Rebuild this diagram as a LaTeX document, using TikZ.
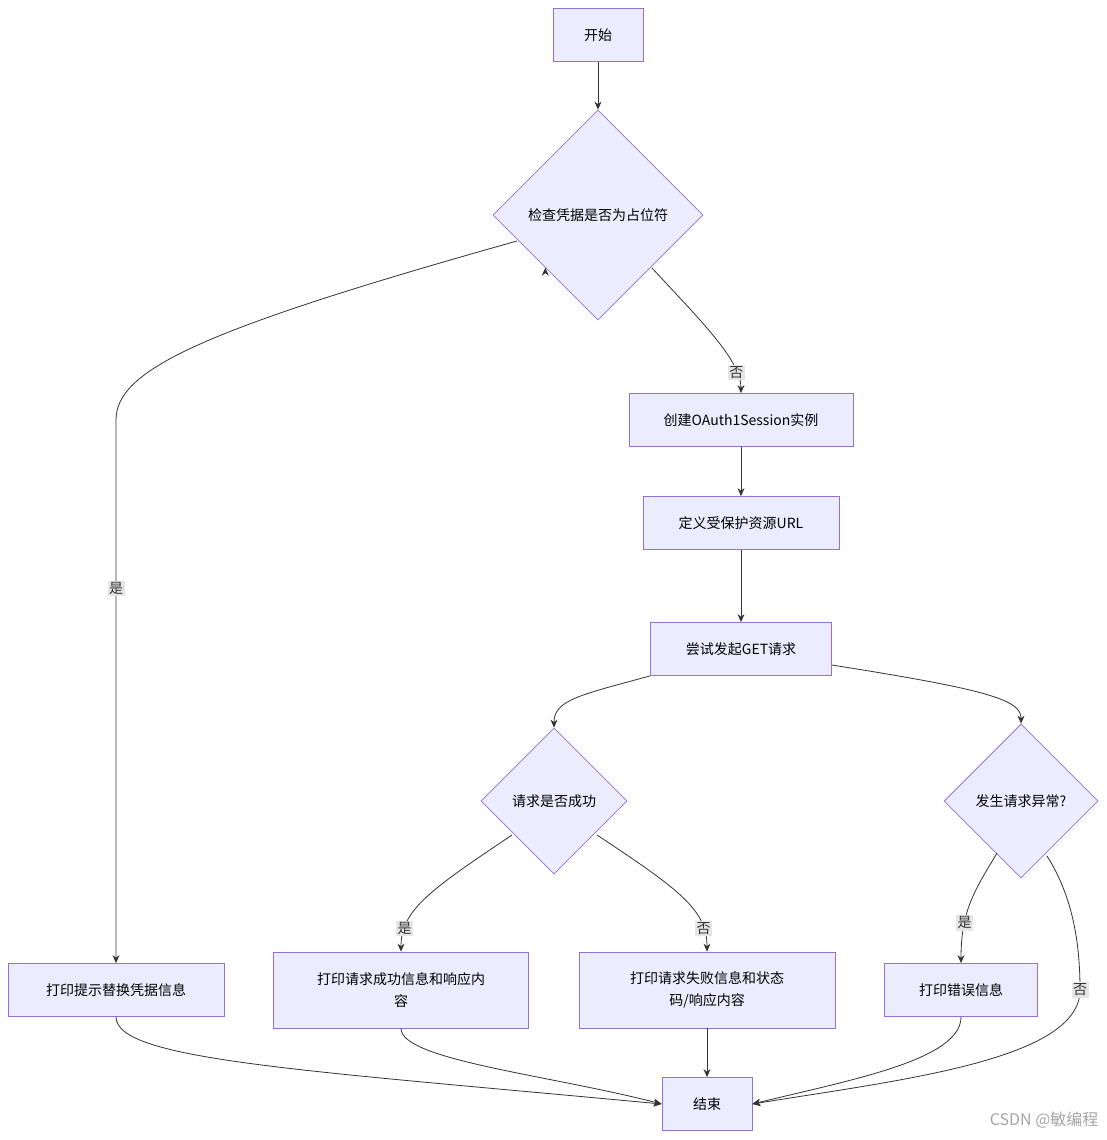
\documentclass[tikz,border=0pt]{standalone}
\usepackage{fontspec}
\setmainfont{Noto Sans CJK SC}
\usetikzlibrary{shapes.geometric,arrows.meta}
\definecolor{nf}{HTML}{ECECFF}
\definecolor{ns}{HTML}{9370DB}
\definecolor{ln}{HTML}{333333}
\tikzset{
 box/.style={draw=ns,fill=nf,line width=0.8pt,minimum height=53pt,align=center,inner sep=0pt,font=\fontsize{14}{22}\selectfont},
 dia/.style={draw=ns,fill=nf,line width=0.8pt,diamond,inner sep=0pt,font=\fontsize{14}{18}\selectfont},
 e/.style={draw=ln,line width=0.8pt,-{Stealth[length=8pt,width=7pt]}},
 lb/.style={fill=gray!20,inner sep=1.5pt,font=\fontsize{14}{16}\selectfont,text=ln}
}
\begin{document}
\begin{tikzpicture}[x=1pt,y=-1pt]
\useasboundingbox[fill=white] (0,0) rectangle (1106,1140);
\node[box,minimum width=90pt] (start) at (598,35) {开始};
\node[dia,minimum width=210pt,minimum height=210pt] (check) at (598,215) {检查凭据是否为占位符};
\node[box,minimum width=224pt] (create) at (741,420) {创建OAuth1Session实例};
\node[box,minimum width=196pt] (def) at (741,523) {定义受保护资源URL};
\node[box,minimum width=181pt] (try) at (741,649) {尝试发起GET请求};
\node[dia,minimum width=146pt,minimum height=146pt] (ok) at (554,801) {请求是否成功};
\node[dia,minimum width=154pt,minimum height=154pt] (exc) at (1021,801) {发生请求异常?};
\node[box,minimum width=216pt] (hint) at (116,990) {打印提示替换凭据信息};
\node[box,minimum width=255pt,minimum height=76pt] (pok) at (401,990) {打印请求成功信息和响应内\\容};
\node[box,minimum width=256pt,minimum height=76pt] (pfail) at (707,990) {打印请求失败信息和状态\\码/响应内容};
\node[box,minimum width=153pt] (perr) at (961,990) {打印错误信息};
\node[box,minimum width=90pt] (end) at (707,1104) {结束};
\node[text=gray!70,font=\fontsize{16}{18}\selectfont,anchor=east] (wm) at (1102,1120) {CSDN @敏编程};

\draw[e] (start) -- (check);
\draw[e] (check.south west) ++(0,0) coordinate (c1);
\draw[e] (517,241) .. controls (200,330) and (116,370) .. (116,420) -- node[lb,pos=0.31]{是} (hint.north);
\draw[e] (652,268) .. controls (700,320) and (741,360) .. (create.north) node[lb,pos=0.8]{否};
\draw[e] (create) -- (def);
\draw[e] (def) -- (try);
\draw[e] (try.south west) .. controls (580,695) and (554,700) .. (ok.north);
\draw[e] (try.east) ++(0,16) .. controls (990,690) and (1021,700) .. (exc.north);
\draw[e] (512,835) .. controls (430,890) and (401,910) .. (pok.north) node[lb,pos=0.8]{是};
\draw[e] (597,835) .. controls (680,890) and (707,910) .. (pfail.north) node[lb,pos=0.8]{否};
\draw[e] (997,853) .. controls (975,890) and (961,910) .. (perr.north) node[lb,pos=0.7]{是};
\draw[e] (1047,856) .. controls (1075,900) and (1080,950) .. (1080,990) node[lb]{否} .. controls (1080,1060) and (900,1080) .. (end.east);
\draw[e] (hint.south) .. controls (116,1060) and (300,1070) .. (end.west);
\draw[e] (pok.south) .. controls (401,1060) and (550,1075) .. (end.west);
\draw[e] (pfail) -- (end);
\draw[e] (perr.south) .. controls (961,1060) and (850,1080) .. (end.east);
\end{tikzpicture}
\end{document}
